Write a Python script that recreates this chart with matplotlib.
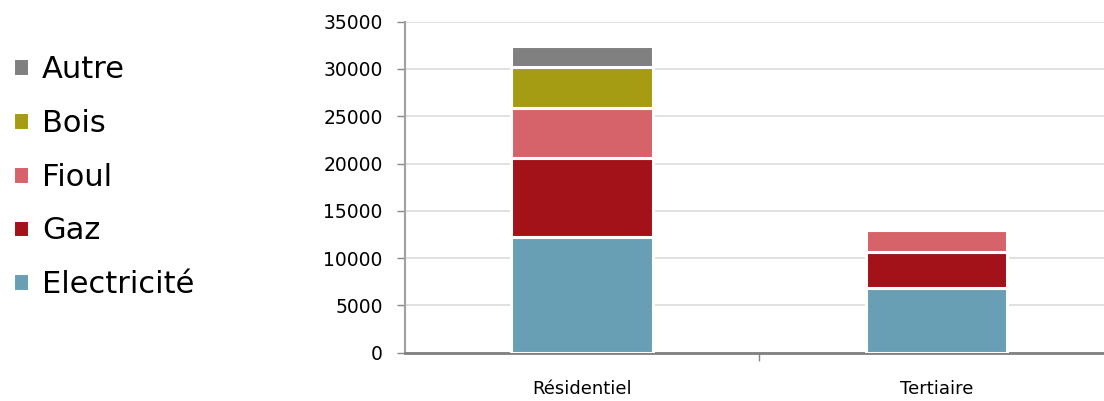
import matplotlib.pyplot as plt
import numpy as np

categories = ["Résidentiel", "Tertiaire"]
series = ["Electricité", "Gaz", "Fioul", "Bois", "Autre"]
electricite = [12200, 6850]
gaz = [8350, 3850]
fioul = [5350, 2250]
bois = [4350, 150]
autre = [2200, 0]
colors = ["#689fb5", "#a31218", "#d6636a", "#a59c14", "#808080"]
yticks = [0, 5000, 10000, 15000, 20000, 25000, 30000, 35000]

values = [electricite, gaz, fioul, bois, autre]

fig = plt.figure(figsize=(11.04, 4.01), dpi=100)
ax = fig.add_axes([405/1104, 0.1204, 1 - 405/1104, 0.946 - 0.1204])

x = np.arange(len(categories))
bottom = np.zeros(len(categories))
handles = []
for name, vals, col in zip(series, values, colors):
	b = ax.bar(x, vals, 0.4, bottom=bottom, color=col, edgecolor="white", linewidth=2.2, label=name, zorder=3)
	handles.append(b)
	bottom += np.array(vals)

ax.set_ylim(0, 35000)
ax.set_xlim(-0.5, 1.473)
ax.set_yticks(yticks)
ax.set_yticklabels([str(t) for t in yticks], fontsize=13.5)
ax.set_xticks(x)
ax.set_xticklabels(categories, fontsize=13)
ax.tick_params(axis="x", which="major", length=0, pad=20)
ax.set_xticks([0.5], minor=True)
ax.tick_params(axis="x", which="minor", length=6, color="#888888", width=1)
ax.tick_params(axis="y", length=6, color="#888888", width=1, pad=10)

ax.grid(axis="y", color="#dcdcdc", linewidth=1.2, zorder=0)
ax.set_axisbelow(True)
for s in ["top", "right"]:
	ax.spines[s].set_visible(False)
ax.spines["left"].set_color("#a0a0a0")
ax.spines["left"].set_linewidth(1.5)
ax.spines["bottom"].set_color("#808080")
ax.spines["bottom"].set_linewidth(2)

fig.legend(handles[::-1], series[::-1], loc="upper left", bbox_to_anchor=(-0.013, 0.931),
		   frameon=False, fontsize=22, handlelength=0.52, handleheight=0.52,
		   handletextpad=0.42, labelspacing=0.81)

fig.savefig("out.png", dpi=100)
